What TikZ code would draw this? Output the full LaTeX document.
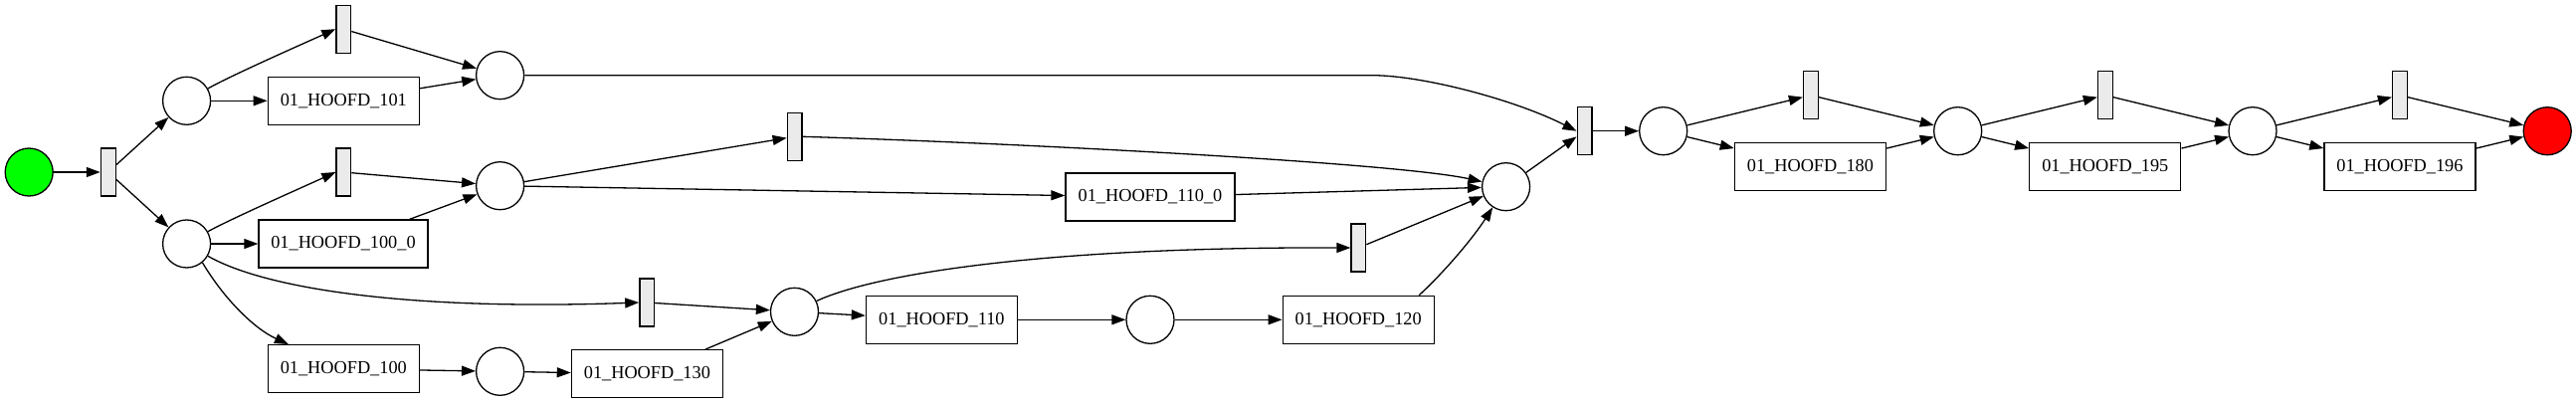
\documentclass[tikz,border=0pt]{standalone}
\usepackage{fontspec}
\setmainfont{Liberation Serif}
\usetikzlibrary{arrows.meta}
\begin{document}
\begin{tikzpicture}[x=1pt,y=-1pt,
  every node/.style={line width=1.3pt},
  place/.style={circle,draw=black,minimum size=48pt,inner sep=0pt,fill=white},
  trans/.style={rectangle,draw=black,fill=black!8,minimum width=14.7pt,minimum height=48pt,inner sep=0pt},
  task/.style={rectangle,draw=black,fill=white,minimum width=152pt,minimum height=48pt,inner sep=0pt,font=\fontsize{18.3}{21}\selectfont},
  taskw/.style={task,minimum width=170pt},
  arc/.style={line width=1.3pt,-{Triangle[length=14pt,width=10pt]}}]
\useasboundingbox (0,0) rectangle (2589,405);
\fill[white] (0,0) rectangle (2589,405);
% nodes
\node[place,fill=green] (src) at (29.2,173) {};
\node[trans] (t0) at (108.8,173) {};
\node[place] (p1) at (187.6,101.3) {};
\node[place] (p2) at (187.6,245) {};
\node[trans] (t1) at (345.3,29.2) {};
\node[task] (h101) at (345.3,101.3) {01\_HOOFD\_101};
\node[place] (p3) at (502.6,75.7) {};
\node[trans] (t2) at (345.3,173) {};
\node[place] (p4) at (502.6,186.7) {};
\node[taskw] (h1000) at (345,245) {01\_HOOFD\_100\_0};
\node[task] (h100) at (345.3,370.7) {01\_HOOFD\_100};
\node[place] (p5) at (502.6,373.3) {};
\node[task] (h130) at (650.4,375.8) {01\_HOOFD\_130};
\node[trans] (t3) at (650.2,304) {};
\node[trans] (t4) at (798.6,137.3) {};
\node[place] (p6) at (798.5,313.3) {};
\node[taskw] (h1100) at (1156,198) {01\_HOOFD\_110\_0};
\node[task] (h110) at (946.4,321.3) {01\_HOOFD\_110};
\node[place] (p7) at (1156,321.3) {};
\node[task] (h120) at (1365.2,321.3) {01\_HOOFD\_120};
\node[trans] (t6) at (1365.4,249) {};
\node[place] (p8) at (1513.6,187.7) {};
\node[trans] (t5) at (1592.5,131.7) {};
\node[place] (p9) at (1671.7,131.7) {};
\node[trans] (t7) at (1819.9,95.7) {};
\node[task] (h180) at (1819.4,167.7) {01\_HOOFD\_180};
\node[place] (p10) at (1967.7,131.7) {};
\node[trans] (t8) at (2115.8,95.7) {};
\node[task] (h195) at (2115.8,167.7) {01\_HOOFD\_195};
\node[place] (p11) at (2264,131.7) {};
\node[trans] (t9) at (2411.9,95.7) {};
\node[task] (h196) at (2411.9,167.7) {01\_HOOFD\_196};
\node[place,fill=red] (snk) at (2560.2,131.7) {};
% arcs
\draw[arc] (src) -- (t0);
\draw[arc] (t0) -- (p1);
\draw[arc] (t0) -- (p2);
\draw[arc] (p1.30) .. controls (232,76) and (300,46) .. (t1.west);
\draw[arc] (p1) -- (h101);
\draw[arc] (t1) -- (p3);
\draw[arc] (h101) -- (p3);
\draw[arc] (p3.east) -- (1380,75.7) .. controls (1430,76) and (1522,100) .. (t5.west);
\draw[arc] (p2.30) .. controls (232,220) and (300,190) .. (t2.west);
\draw[arc] (p2) -- (h1000);
\draw[arc] (p2.-30) .. controls (270,292) and (420,312) .. (t3.west);
\draw[arc] (p2.-50) .. controls (225,300) and (255,330) .. (h100.156);
\draw[arc] (t2) -- (p4);
\draw[arc] (h1000) -- (p4);
\draw[arc] (p4) -- (t4);
\draw[arc] (p4) -- (h1100);
\draw[arc] (t4.east) .. controls (1000,143) and (1400,163) .. (p8.168);
\draw[arc] (h1100) -- (p8);
\draw[arc] (h100) -- (p5);
\draw[arc] (p5) -- (h130);
\draw[arc] (t3) -- (p6);
\draw[arc] (h130) -- (p6);
\draw[arc] (p6.26) .. controls (880,275) and (1050,248) .. (t6.west);
\draw[arc] (p6) -- (h110);
\draw[arc] (h110) -- (p7);
\draw[arc] (p7) -- (h120);
\draw[arc] (t6) -- (p8);
\draw[arc] (h120.22) .. controls (1450,275) and (1480,240) .. (p8.237);
\draw[arc] (p8) -- (t5);
\draw[arc] (t5) -- (p9);
\draw[arc] (p9) -- (t7);
\draw[arc] (p9) -- (h180);
\draw[arc] (t7) -- (p10);
\draw[arc] (h180) -- (p10);
\draw[arc] (p10) -- (t8);
\draw[arc] (p10) -- (h195);
\draw[arc] (t8) -- (p11);
\draw[arc] (h195) -- (p11);
\draw[arc] (p11) -- (t9);
\draw[arc] (p11) -- (h196);
\draw[arc] (t9) -- (snk);
\draw[arc] (h196) -- (snk);
\end{tikzpicture}
\end{document}
